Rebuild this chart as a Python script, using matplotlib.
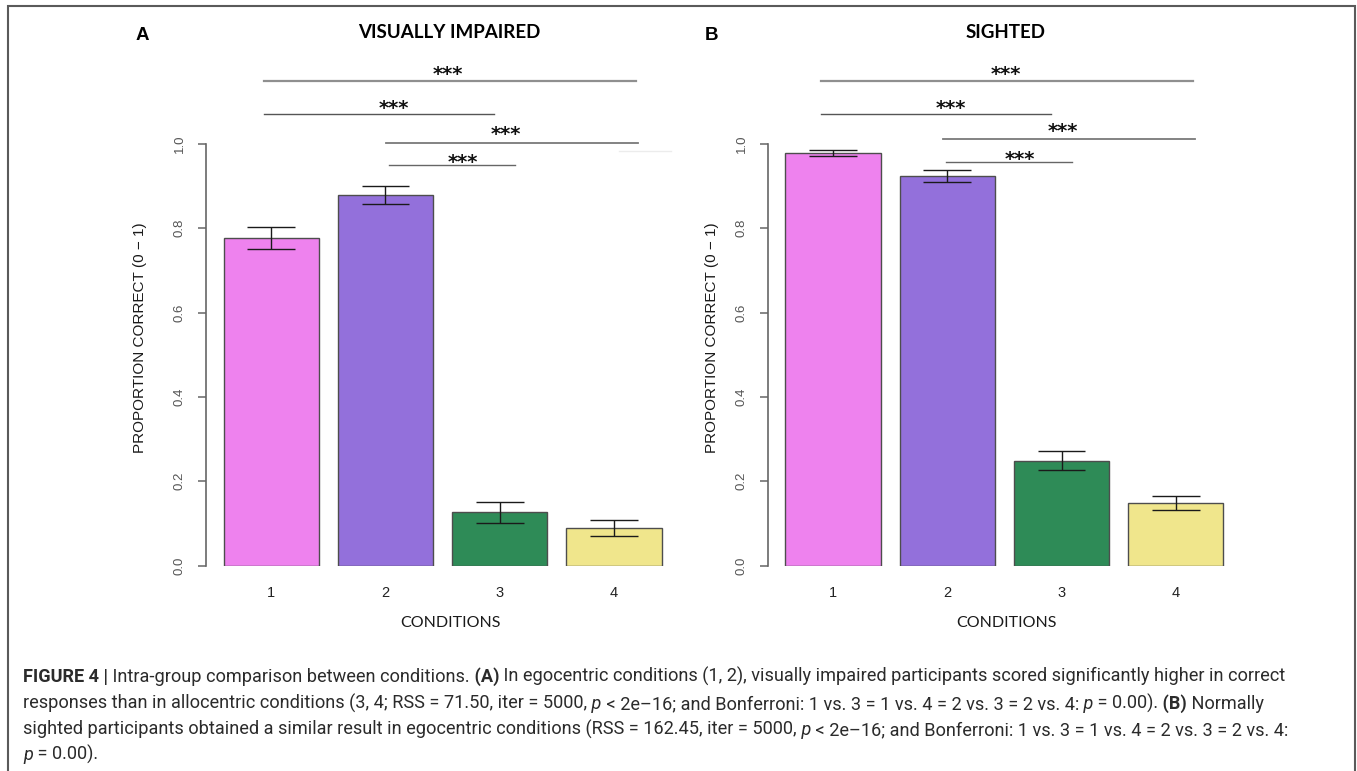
import matplotlib
matplotlib.use("Agg")
import numpy as np
import matplotlib.pyplot as plt
from matplotlib.patches import Rectangle
from matplotlib.lines import Line2D

W, H, DPI = 1357, 771, 100

# ---- data -------------------------------------------------------------
conditions = ["1", "2", "3", "4"]
bar_colors = ["#EE82EE", "#9370DB", "#2E8B57", "#F0E68C"]

impaired_mean = [0.777, 0.879, 0.126, 0.089]
impaired_se = [0.027, 0.022, 0.024, 0.018]

sighted_mean = [0.979, 0.924, 0.249, 0.148]
sighted_se = [0.007, 0.014, 0.023, 0.017]

yticks = [0.0, 0.2, 0.4, 0.6, 0.8, 1.0]
sig_label = "***"

# bracket layout per panel: (x_start, x_end, y_line, x_star, y_star)
brackets_a = [(0.62, 4.53, 1.150, 2.56, 1.166),
              (0.62, 3.04, 1.071, 1.99, 1.084),
              (1.91, 4.55, 1.003, 3.16, 1.022),
              (1.94, 3.26, 0.950, 2.71, 0.956)]
brackets_b = [(0.57, 4.48, 1.150, 2.51, 1.166),
              (0.57, 2.99, 1.071, 1.94, 1.084),
              (1.86, 4.50, 1.012, 3.11, 1.029),
              (1.89, 3.21, 0.957, 2.66, 0.963)]
bracket_styles = [("#8f8f8f", 1.6), ("#555555", 1.0),
                  ("#7a7a7a", 1.3), ("#666666", 1.0)]

caption_lines = [
    [("FIGURE 4 |", "bold", "normal"),
     (" Intra-group comparison between conditions.", "normal", "normal"),
     (" (A)", "bold", "normal"),
     (" In egocentric conditions (1, 2), visually impaired participants "
      "scored significantly higher in correct", "normal", "normal")],
    [("responses than in allocentric conditions (3, 4; RSS = 71.50, "
      "iter = 5000,", "normal", "normal"),
     (" p", "normal", "italic"),
     (" < 2e\u201316; and Bonferroni: 1 vs. 3 = 1 vs. 4 = 2 vs. 3 = 2 vs. 4:",
      "normal", "normal"),
     (" p", "normal", "italic"),
     (" = 0.00).", "normal", "normal"),
     (" (B)", "bold", "normal"),
     (" Normally", "normal", "normal")],
    [("sighted participants obtained a similar result in egocentric "
      "conditions (RSS = 162.45, iter = 5000,", "normal", "normal"),
     (" p", "normal", "italic"),
     (" < 2e\u201316; and Bonferroni: 1 vs. 3 = 1 vs. 4 = 2 vs. 3 = 2 vs. 4:",
      "normal", "normal")],
    [("p", "normal", "italic"),
     (" = 0.00).", "normal", "normal")],
]

AXIS_FONT = ["Liberation Sans", "DejaVu Sans"]
TITLE_FONT = ["Lato", "DejaVu Sans"]
CAPTION_FONT = ["Roboto", "DejaVu Sans"]

fig = plt.figure(figsize=(W / DPI, H / DPI), dpi=DPI)
fig.patch.set_facecolor("white")


def px(x, y):
    """pixel position (from top-left) -> figure fraction"""
    return x / W, 1 - y / H


def panel(left_px, means, errs, brackets, title, letter, title_x, letter_x,
          ylab_x, xlab_x):
    ax = fig.add_axes([left_px / W, 1 - 565.5 / H, 473.2 / W, 421.5 / H])
    # barplot layout: width 1, space 0.2
    xs = 0.2 + 1.2 * np.arange(len(means)) + 0.5
    ax.bar(xs, means, width=1.0, color=bar_colors, edgecolor="#4d4d4d",
           linewidth=1.0, zorder=2)
    lo = np.array(means) - np.array(errs)
    hi = np.array(means) + np.array(errs)
    ax.vlines(xs, lo, hi, color="#1a1a1a", lw=1.0, zorder=3)
    ax.hlines(lo, xs - 0.25, xs + 0.25, color="#1a1a1a", lw=1.0, zorder=3)
    ax.hlines(hi, xs - 0.25, xs + 0.25, color="#1a1a1a", lw=1.0, zorder=3)

    ax.set_xlim(0.016, 4.984)
    ax.set_ylim(0, 1)
    for s in ("top", "right", "bottom"):
        ax.spines[s].set_visible(False)
    ax.spines["left"].set_color("#666666")
    ax.spines["left"].set_linewidth(1.2)

    ax.set_yticks(yticks)
    ax.set_yticklabels([f"{v:.1f}" for v in yticks], rotation=90,
                       va="center", family=AXIS_FONT)
    ax.tick_params(axis="y", length=5.5, width=1.1, color="#666666",
                   labelcolor="#555555", labelsize=9.5, pad=9)
    ax.set_xticks(xs)
    ax.set_xticklabels(conditions, family=AXIS_FONT)
    ax.tick_params(axis="x", length=0, labelsize=10.5, labelcolor="#222222",
                   pad=15)

    # significance brackets above the bars
    for (x0, x1, yl, xsx, ysy), (c, lw) in zip(brackets, bracket_styles):
        ax.add_line(Line2D([x0, x1], [yl, yl], color=c, lw=lw,
                           clip_on=False))
        ax.text(xsx, ysy, sig_label, ha="center", va="center",
                fontsize=14, fontweight="bold", color="#111111",
                family=["DejaVu Sans"], clip_on=False)

    fig.text(*px(title_x, 32), title, ha="center", va="center",
             fontsize=13.5, fontweight="bold", family=TITLE_FONT,
             color="#000000")
    fig.text(*px(letter_x, 35), letter, ha="center", va="center",
             fontsize=13.5, fontweight="bold", family=AXIS_FONT,
             color="#000000")
    fig.text(*px(ylab_x, 338), "PROPORTION CORRECT (0 \u2212 1)",
             rotation=90, ha="center", va="center", fontsize=11,
             family=AXIS_FONT, color="#1a1a1a")
    fig.text(*px(xlab_x, 623), "CONDITIONS", ha="center", va="center",
             fontsize=11.5, family=TITLE_FONT, color="#1a1a1a")
    return ax


ax_a = panel(206.0, impaired_mean, impaired_se, brackets_a,
             "VISUALLY IMPAIRED", "A", 449, 142, 140, 450)
ax_b = panel(767.8, sighted_mean, sighted_se, brackets_b,
             "SIGHTED", "B", 1006, 712, 712, 1006)

# stray faint rule next to panel A's brackets
ax_a.add_line(Line2D([4.35, 4.9], [0.984, 0.984], color="#ececec", lw=1.0,
                     clip_on=False))

# outer frame (open at the bottom edge)
fig.add_artist(Rectangle((8 / W, -0.02), 1347 / W, 1 - 6 / H + 0.02,
                         transform=fig.transFigure, fill=False,
                         edgecolor="#5a5a5a", lw=1.5))

# caption, drawn run by run so bold/italic pieces line up
renderer = fig.canvas.get_renderer()


def run_width(runs, size):
    total = 0.0
    for text, weight, style in runs:
        t = fig.text(0, 0, text, fontsize=size, fontweight=weight,
                     fontstyle=style, family=CAPTION_FONT)
        total += t.get_window_extent(renderer).width
        t.remove()
    return total


base = 10.0
cap_size = base * 1260 / run_width(caption_lines[0], base)

baselines = [682, 709, 735, 760]
for runs, yb in zip(caption_lines, baselines):
    x = 23.0
    for text, weight, style in runs:
        t = fig.text(*px(x, yb), text, fontsize=cap_size, fontweight=weight,
                     fontstyle=style, family=CAPTION_FONT, color="#2b2b2b",
                     ha="left", va="baseline")
        x += t.get_window_extent(renderer).width

fig.savefig("out.png", dpi=DPI, facecolor="white")
